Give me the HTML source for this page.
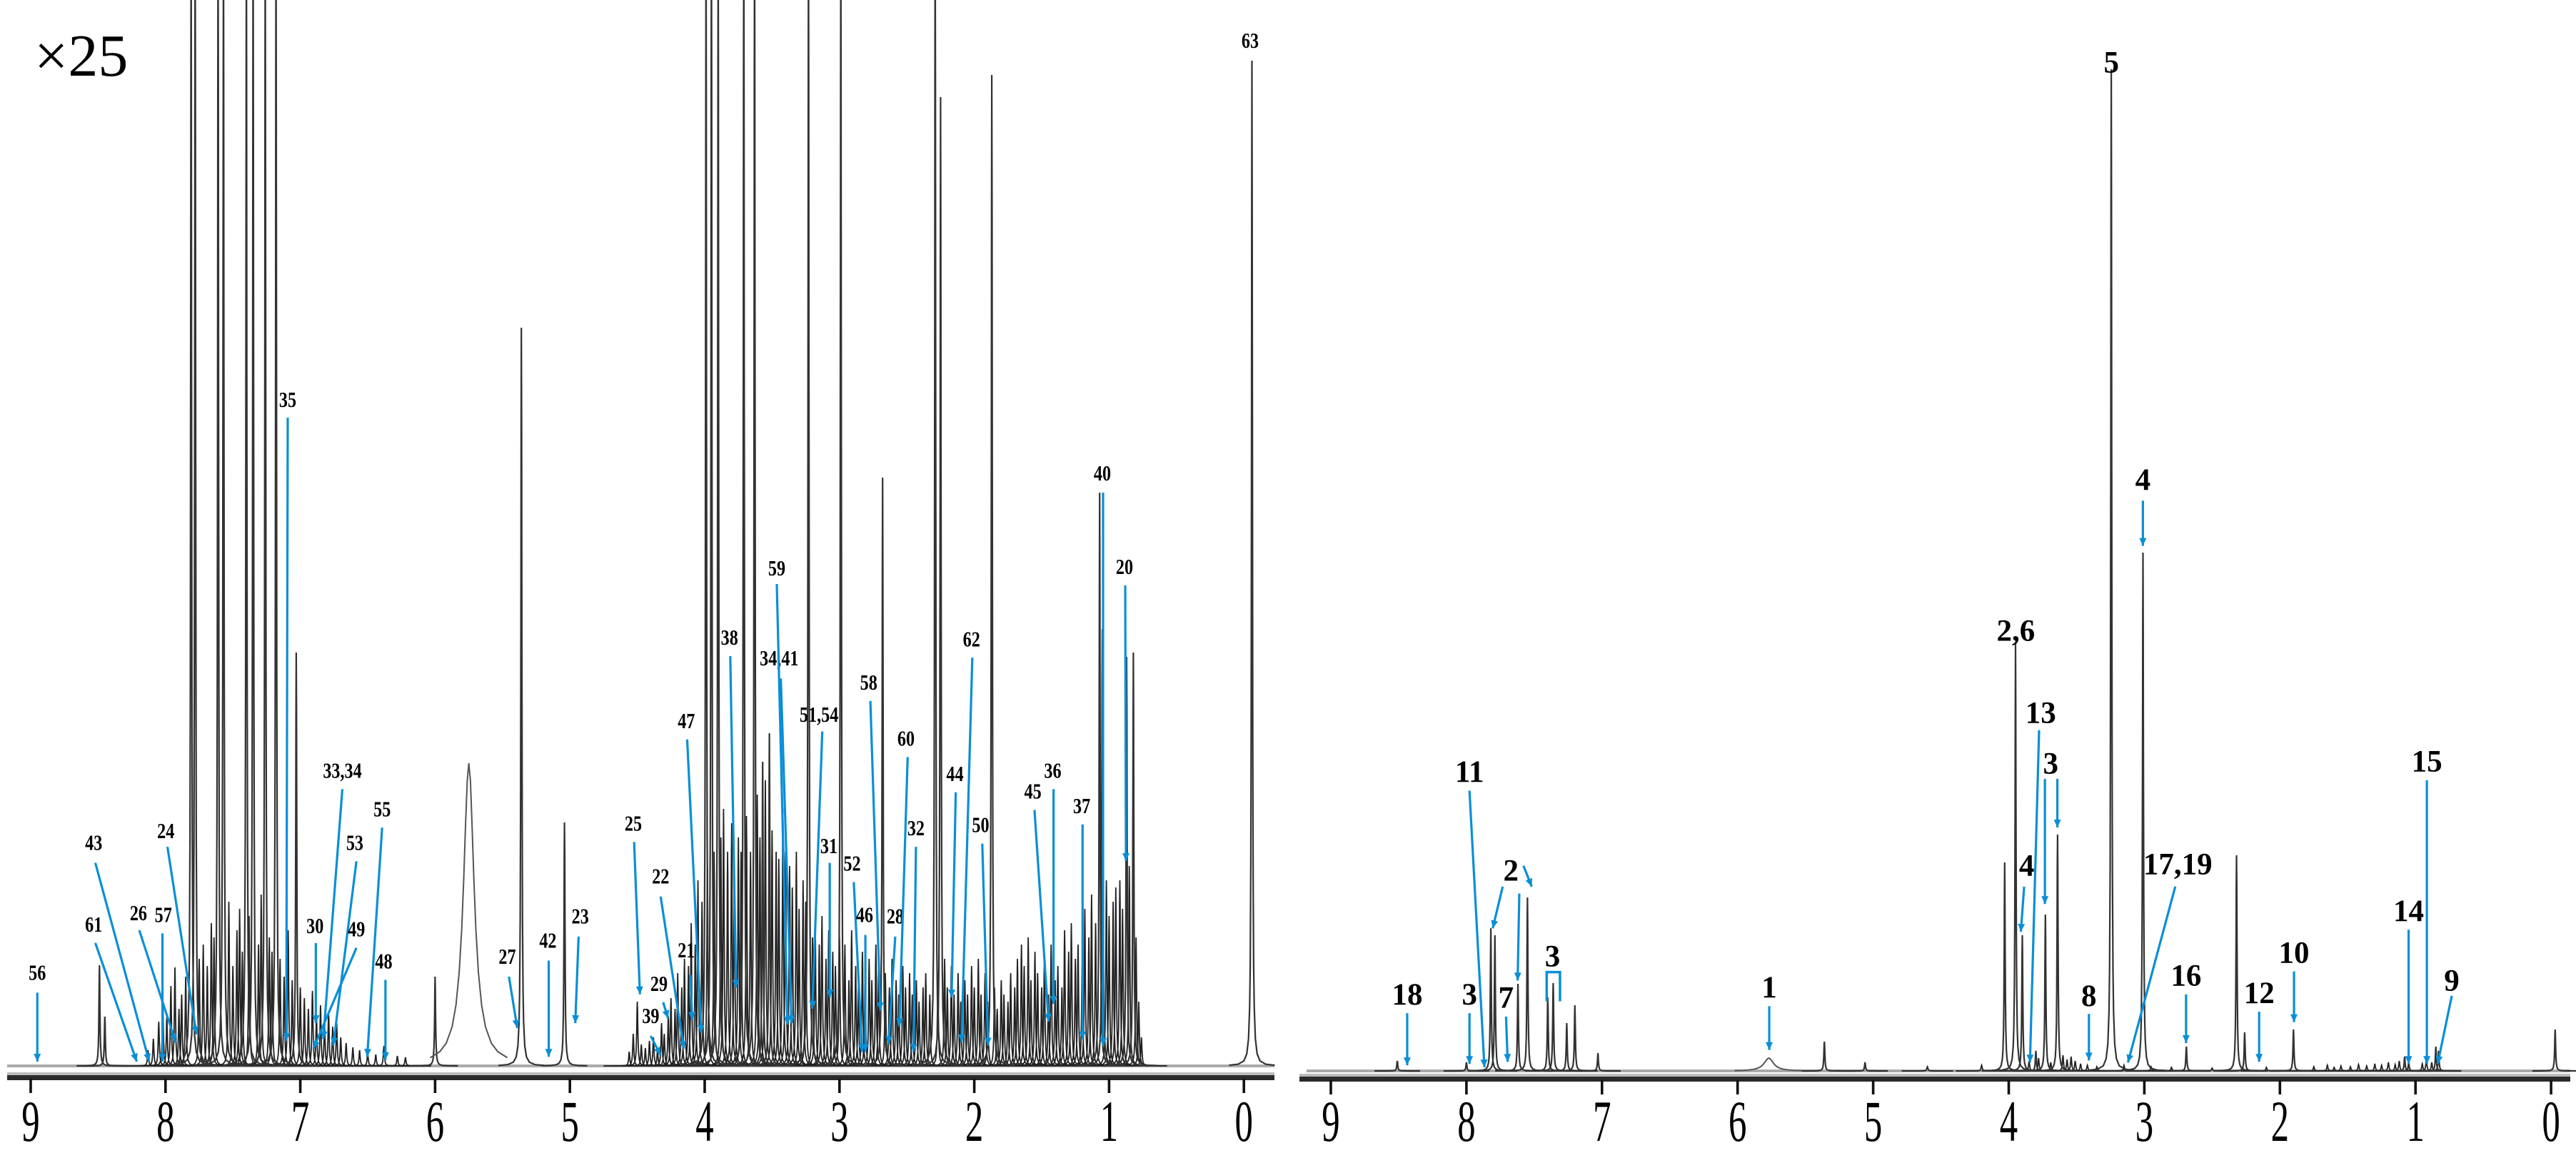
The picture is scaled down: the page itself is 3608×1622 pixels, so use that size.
<!DOCTYPE html>
<html><head><meta charset="utf-8"><style>
html,body{margin:0;padding:0;background:#fff;}
svg{display:block;}
.tick{font-family:"Liberation Serif",serif;font-size:82px;}
.lbl{font-family:"Liberation Serif",serif;font-weight:bold;font-size:31px;}
.rl{font-family:"Liberation Serif",serif;font-weight:bold;font-size:43px;}
</style></head><body>
<svg id="c" width="3608" height="1622" viewBox="0 0 3608 1622" xmlns="http://www.w3.org/2000/svg">
<defs>
<clipPath id="clipL"><rect x="0" y="0" width="1790" height="1500"/></clipPath>
<clipPath id="clipR"><rect x="1800" y="0" width="1808" height="1505"/></clipPath>
</defs>
<text x="48" y="106" font-family="Liberation Serif, serif" font-size="84">×25</text>
</svg>
<script>
// ---- Left spectrum (x25) data ----
const bigPpmL = [8.49,8.45,7.81,7.78,7.61,7.57,7.40,7.35,7.26,7.18,7.03,6.00,5.36,5.04,3.99,3.95,3.90,3.71,3.63,3.57,3.52,3.23,2.99,2.68,2.29,2.25,1.87,1.07,1.05,0.87,0.82,-0.06];
const bigHL   = [141,69,1600,1600,1600,1600,1600,1600,1600,1600,579,125,1034,341,1600,1600,1600,1600,1600,426,466,1600,1600,824,1600,1357,1388,803,612,573,579,1408];
const broadPpmL = [5.75];
const broadHL = [424];
const grassPpmA = [8.13,8.09,8.05,8.02,7.99,7.96,7.93,7.90,7.88,7.85,7.75,7.72,7.69,7.66,7.64,7.53,7.50,7.47,7.45,7.43,7.38,7.31,7.29,7.23,7.21,7.15,7.12,7.09,7.06,7.00,6.97,6.94,6.91,6.88,6.85,6.82,6.79,6.76,6.73,6.70,6.66,6.61,6.56,6.50,6.44,6.38,6.28,6.22];
const grassHA   = [22,38,62,95,70,112,138,80,100,125,150,170,140,200,180,230,140,190,220,160,210,170,240,180,160,150,125,190,120,110,95,80,105,70,85,60,75,55,60,40,32,26,22,18,16,28,14,12];
const grassPpmB = [4.56,4.53,4.50,4.47,4.44,4.41,4.38,4.35,4.32,4.30,4.27,4.25,4.22,4.20,4.17,4.15,4.12,4.10,4.07,4.05,4.02,3.98,3.93,3.88,3.86,3.83,3.80,3.78,3.75,3.73,3.69,3.66,3.61,3.59,3.55,3.50,3.47,3.45,3.42,3.40,3.37,3.35,3.32,3.30,3.27,3.25,3.20,3.18,3.15,3.13,3.10,3.08,3.05,3.03,3.00,2.96,2.93,2.91,2.88,2.86,2.83,2.81,2.78,2.76,2.73,2.71,2.66,2.63,2.61,2.58,2.56,2.53,2.51,2.48,2.46,2.43,2.41,2.38,2.36,2.33,2.27,2.22,2.20,2.17,2.15,2.12,2.10,2.07,2.05,2.02,2.00,1.97,1.95,1.92,1.90,1.85,1.83,1.80,1.78,1.75,1.73,1.70,1.68,1.65,1.63,1.60,1.58,1.55,1.53,1.50,1.48,1.45,1.43,1.40,1.38,1.35,1.33,1.30,1.28,1.25,1.23,1.20,1.18,1.15,1.13,1.10,1.02,1.00,0.97,0.95,0.92,0.90,0.85,0.80,0.78,0.76];
const grassHB   = [20,45,90,30,25,35,40,22,60,45,70,95,80,130,110,150,140,200,170,260,230,280,300,320,360,300,340,280,320,300,350,300,380,320,400,330,300,290,360,300,280,250,300,220,260,230,180,200,170,210,150,190,160,140,180,170,120,190,140,110,160,130,150,120,170,140,130,110,150,120,100,140,110,130,100,120,90,110,130,100,120,150,110,140,100,130,90,120,100,140,110,150,100,130,90,110,80,120,100,90,130,110,150,170,140,180,120,160,130,110,150,100,170,120,140,110,190,160,200,150,170,140,220,180,240,200,260,210,230,250,260,220,280,180,90,40,20];
// ---- Right spectrum data ----
const bigPpmR = [8.51,8.00,7.82,7.79,7.62,7.55,7.40,7.36,7.26,7.20,7.03,5.36,5.06,4.03,3.95,3.90,3.80,3.73,3.64,3.244,3.01,2.69,2.32,2.26,1.90,1.08,1.05,0.85,0.83,-0.03];
const bigHR   = [14,12,200,190,122,243,103,123,67,92,25,41,12,292,599,190,28,219,331,1403,726,34,302,54,58,20,12,34,28,58];
const broadPpmR = [5.77];
const broadHR = [18];
const grassPpmR = [4.60,4.20,3.85,3.78,3.69,3.60,3.57,3.54,3.51,3.47,3.42,3.35,3.15,2.95,2.80,2.50,2.10,1.75,1.65,1.60,1.55,1.48,1.42,1.36,1.30,1.25,1.20,1.15,1.12,0.95,0.92,0.88];
const grassHR   = [6,8,14,18,12,22,16,20,14,10,8,6,8,6,5,4,5,6,8,5,7,6,9,7,10,8,12,9,14,10,16,12];
const tickVals = [9,8,7,6,5,4,3,2,1,0];

const NS = "http://www.w3.org/2000/svg";
const svg = document.getElementById('c');
function mk(tag, attrs, parent){const e=document.createElementNS(NS,tag);for(const k in attrs)e.setAttribute(k,attrs[k]);(parent||svg).appendChild(e);return e;}
// axis functions
const xL = p => 43 + (9-p)*188.8;
const xR = p => 1864 + (9-p)*189.9;
const baseL = 1493, baseR = 1500;

const OFFS=[-40,-24,-14,-9,-6,-4,-3,-2,-1.4,-0.8,-0.4,0,0.4,0.8,1.4,2,3,4,6,9,14,24,40];
const OFFS_BROAD=[-6,-4.5,-3.5,-2.6,-2,-1.5,-1.1,-0.8,-0.5,-0.25,0,0.25,0.5,0.8,1.1,1.5,2,2.6,3.5,4.5,6];
function peakPath(x0,h,g,base,offs){
  offs=offs||OFFS;
  let d='';
  offs.forEach((o,i)=>{const y=base-h*g*g/(o*o*g*g+g*g);d+=(i?'L':'M')+(x0+o*g).toFixed(1)+','+y.toFixed(1);});
  return d;
}
function drawSpectrum(gName, clip, xf, base, bigP, bigH, brP, brH, grP, grH, color, brW){
  const g=mk('g',{'clip-path':'url(#'+clip+')'});
  
  
  mk('line',{x1:xf===xL?10:1830,x2:xf===xL?1785:3600,y1:base,y2:base,stroke:'#aaa','stroke-width':4},g);
  let dg='';
  grP.forEach((p,i)=>{dg+=peakPath(xf(p),grH[i],0.9,base);});
  const pg=mk('path',{d:dg,fill:'none',stroke:'#222','stroke-width':1.8},g);
  
  
  let db='';
  bigP.forEach((p,i)=>{db+=peakPath(xf(p),bigH[i],0.8,base);});
  const pb=mk('path',{d:db,fill:'none',stroke:color,'stroke-width':2.2},g);
  
  
  let dr='';
  brP.forEach((p,i)=>{
    const x0=xf(p);
    OFFS_BROAD.forEach((o,j)=>{const y=base-brH[i]/(1+o*o);dr+=(j?'L':'M')+(x0+o*brW).toFixed(1)+','+y.toFixed(1);});
  });
  const pr=mk('path',{d:dr,fill:'none',stroke:'#555','stroke-width':2},g);
  
  
}
drawSpectrum('left-spectrum','clipL',xL,baseL,bigPpmL,bigHL,broadPpmL,broadHL,grassPpmA.concat(grassPpmB),grassHA.concat(grassHB),'#333',9);
drawSpectrum('right-spectrum','clipR',xR,baseR,bigPpmR,bigHR,broadPpmR,broadHR,grassPpmR,grassHR,'#333',8);

function drawAxis(name,xf,x1,x2,y){
  const g=mk('g',{});
  
  
  mk('rect',{x:x1,y:y-9,width:x2-x1,height:4,fill:'#bbb'},g);
  mk('rect',{x:x1,y:y-5,width:x2-x1,height:7,fill:'#2a2a2a'},g);
  tickVals.forEach(v=>{
    const x=xf(v);
    const t=mk('rect',{x:x-1.8,y:y,width:3.6,height:20,fill:'#111'},g);
    
    
    const tx=mk('text',{x:0,y:0,'text-anchor':'middle',class:'tick',transform:'translate('+x.toFixed(1)+',1598) scale(0.62,1)'},g);
    tx.textContent=String(v);
    
    
  });
}
drawAxis('left-x-axis',xL,10,1785,1511);
drawAxis('right-x-axis',xR,1820,3600,1513);

const BLUE='#0a8fd6';
function arrow(g,x1,y1,x2,y2){
  mk('line',{x1:x1,y1:y1,x2:x2,y2:y2,stroke:BLUE,'stroke-width':3.2},g);
  const a=Math.atan2(y2-y1,x2-x1),L=11,W=5;
  const bx=x2-L*Math.cos(a),by=y2-L*Math.sin(a);
  const px=-Math.sin(a)*W,py=Math.cos(a)*W;
  mk('polygon',{points:x2+','+y2+' '+(bx+px)+','+(by+py)+' '+(bx-px)+','+(by-py),fill:BLUE},g);
}
const lz = (dx)=>dx*1.161, lyz=(dy)=>800+dy*0.449;
const leftLabels = [
 ['56',45,1250,45,1315,45,1530],['61',113,1100,115,1160,165,1530],['43',113,845,115,910,180,1530],
 ['26',167,1065,168,1120,212,1470],['57',197,1070,196,1130,196,1530],['24',200,808,202,860,237,1445],
 ['30',380,1105,381,1160,381,1410],['33,34',413,620,413,680,390,1460],['53',428,845,430,905,402,1480],
 ['49',430,1115,430,1175,378,1490],['55',461,740,461,800,443,1515],['48',463,1215,465,1275,465,1525],
 ['27',612,1200,614,1265,624,1425],['42',661,1150,662,1215,662,1515],['23',700,1075,698,1140,694,1410],
 ['25',764,785,765,845,772,1320],['22',797,950,797,1015,825,1490],['29',795,1285,800,1345,806,1395],
 ['39',785,1385,785,1450,797,1510],['21',828,1180,833,1260,835,1400],['47',828,465,829,525,846,1440],
 ['38',880,205,881,265,888,1300],['34,41',940,270,942,335,955,1410],['51,54',988,445,992,500,980,1365],
 ['31',1000,855,1001,910,1001,1330],['52',1028,910,1030,970,1040,1500],['58',1048,345,1050,405,1062,1370],
 ['46',1043,1070,1044,1135,1044,1500],['28',1080,1075,1080,1140,1072,1475],['60',1093,520,1095,580,1085,1420],
 ['32',1105,800,1105,860,1102,1500],['44',1152,630,1153,690,1148,1330],['62',1172,210,1173,270,1160,1470],
 ['50',1183,790,1185,850,1192,1480],['45',1246,685,1248,745,1265,1405],['36',1270,620,1271,680,1271,1350],
 ['37',1305,730,1306,790,1306,1460]
];
const leftTopLabels = [
 ['35',403,559,403,585,401,1458],['59',1088,795,1088,818,1103,1435],['40',1544,662,1545,690,1545,1465],
 ['20',1575,793,1576,820,1577,1206],['63',1751,56,null,null,null,null]
];
const gl=mk('g',{});


function leftLabel(t,x,y,a){
  const g=mk('g',{},gl);
  
  
  if(a) arrow(g,a[0],a[1],a[2],a[3]);
  const tx=mk('text',{x:0,y:0,'text-anchor':'middle',class:'lbl',transform:'translate('+x.toFixed(1)+','+(y+11).toFixed(1)+') scale(0.78,1)'},g);
  tx.textContent=t;
}
leftLabels.forEach(l=>leftLabel(l[0],lz(l[1]),lyz(l[2]),[lz(l[3]),lyz(l[4]),lz(l[5]),lyz(l[6])]));
leftTopLabels.forEach(l=>leftLabel(l[0],l[1],l[2],l[3]===null?null:[l[3],l[4],l[5],l[6]]));

const rx=(dx)=>1800+dx*1.163, ry=(dy)=>dy*0.974;
const rightLabels = [
 ['5',995,90,null],['4',1033,690,[1033,720,1033,785]],['2,6',880,907,null],
 ['13',910,1025,[908,1050,897,1528]],['3',922,1098,[915,1120,915,1300]],['4',893,1245,[890,1275,886,1340]],
 ['17,19',1075,1243,[1072,1275,1015,1528]],['8',968,1432,[968,1458,968,1525]],['16',1085,1403,[1085,1430,1085,1500]],
 ['12',1173,1428,[1173,1455,1173,1527]],['10',1215,1370,[1215,1397,1215,1470]],['14',1353,1310,[1353,1337,1353,1530]],
 ['15',1375,1095,[1375,1122,1375,1530]],['9',1405,1410,[1405,1432,1388,1530]],['1',583,1420,[583,1447,583,1510]],
 ['18',147,1430,[147,1457,147,1532]],['3',222,1430,[222,1457,222,1530]],['11',222,1110,[222,1137,240,1535]],
 ['7',266,1435,[266,1462,268,1527]],['2',272,1252,[262,1275,250,1335]],['3',322,1375,null]
];
const gr=mk('g',{});


rightLabels.forEach(l=>{
  const g=mk('g',{},gr);
  
  
  if(l[3]) arrow(g,rx(l[3][0]),ry(l[3][1]),rx(l[3][2]),ry(l[3][3]));
  const tx=mk('text',{x:rx(l[1]).toFixed(1),y:(ry(l[2])+14).toFixed(1),'text-anchor':'middle',class:'rl'},g);
  tx.textContent=l[0];
});
const ga=mk('g',{},gr);


arrow(ga,rx(282),ry(1285),rx(280),ry(1410));
arrow(ga,rx(287),ry(1245),rx(297),ry(1275));
arrow(ga,rx(930),ry(1120),rx(930),ry(1190));
mk('path',{d:'M'+rx(315)+','+ry(1440)+' L'+rx(315)+','+ry(1398)+' L'+rx(331)+','+ry(1398)+' L'+rx(331)+','+ry(1440),fill:'none',stroke:BLUE,'stroke-width':3.5},ga);
</script>
</body></html>
